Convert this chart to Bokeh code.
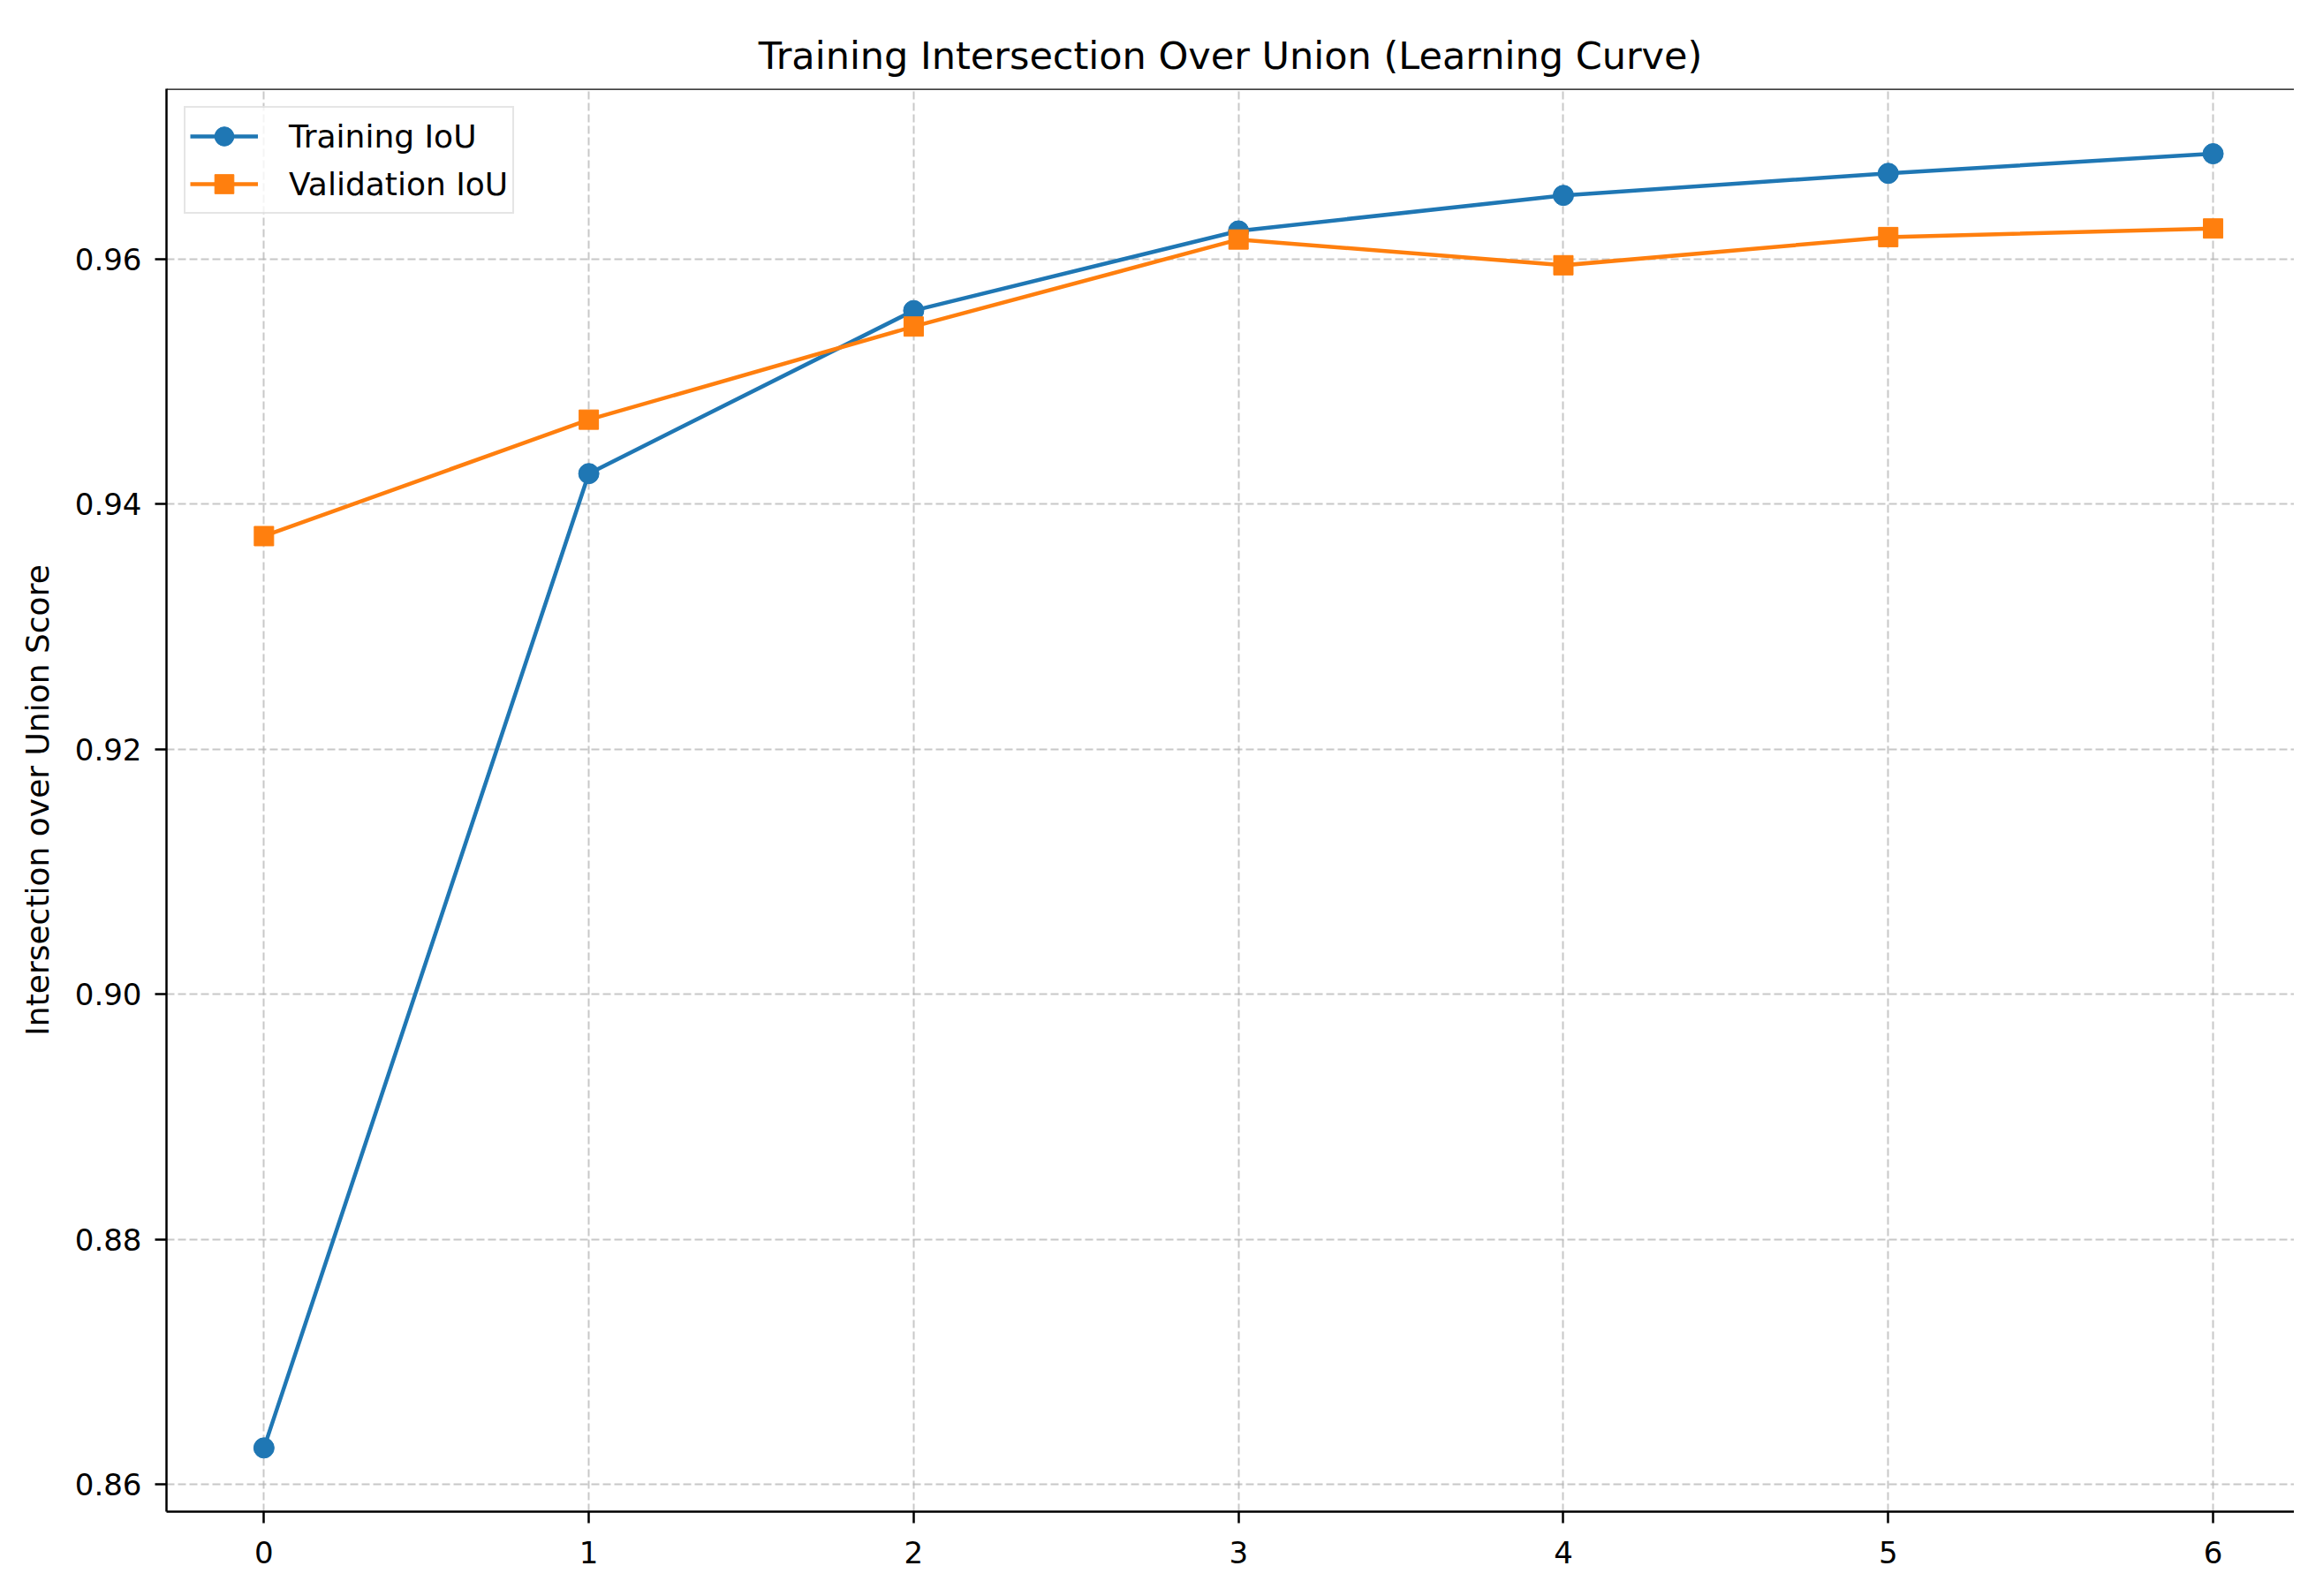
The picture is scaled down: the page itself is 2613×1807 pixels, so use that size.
from bokeh.plotting import figure
from bokeh.models import Range1d, Span, Label, FixedTicker, NumeralTickFormatter
from bokeh.embed import file_html
from bokeh.resources import INLINE

# ---- data ----
epochs = [0, 1, 2, 3, 4, 5, 6]
train_iou = [0.8630, 0.9425, 0.9558, 0.9623, 0.9652, 0.9670, 0.9686]
val_iou = [0.9374, 0.9469, 0.9545, 0.9616, 0.9595, 0.9618, 0.9625]
x_ticks = [0, 1, 2, 3, 4, 5, 6]
y_ticks = [0.86, 0.88, 0.90, 0.92, 0.94, 0.96]
title_text = "Training Intersection Over Union (Learning Curve)"
heading_text = "RESULT AND DISCUSSION"
x_label = "Epochs"
y_label = "Intersection over Union Score"

# ---- layout ----
W, H = 2597, 1791
LEFT, TOP, BOTTOM = 188, 100, 80
X0, X1 = -0.3, 6.25
Y0, Y1 = 0.8578, 0.9739
FONT = "DejaVu Sans"

p = figure(width=W, height=H, output_backend="svg", toolbar_location=None,
           x_range=Range1d(X0, X1), y_range=Range1d(Y0, Y1),
           min_border_left=LEFT, min_border_right=0,
           min_border_top=TOP, min_border_bottom=BOTTOM,
           title=title_text)
p.background_fill_color = "white"
p.border_fill_color = "white"
p.outline_line_color = None

p.title.text_font = FONT
p.title.text_font_size = "43px"
p.title.text_font_style = "normal"
p.title.text_color = "black"
p.title.align = "center"
p.title.standoff = 25
p.title.offset = 8

frame_h = H - TOP - BOTTOM
ppu_y = frame_h / (Y1 - Y0)


def ydata(canvas_y):
    return Y0 + ((H - BOTTOM) - canvas_y) / ppu_y


# grid
for g in (p.xgrid, p.ygrid):
    g.grid_line_color = "#b0b0b0"
    g.grid_line_alpha = 0.7
    g.grid_line_width = 2
    g.grid_line_dash = "9 4"

# axes
p.xaxis.ticker = FixedTicker(ticks=x_ticks)
p.yaxis.ticker = FixedTicker(ticks=y_ticks)
p.yaxis.formatter = NumeralTickFormatter(format="0.00")
for ax in (p.xaxis, p.yaxis):
    ax.major_label_text_font = FONT
    ax.major_label_text_font_size = "34px"
    ax.major_label_text_color = "black"
    ax.major_tick_out = 13
    ax.major_tick_in = 0
    ax.minor_tick_out = 0
    ax.minor_tick_in = 0
    ax.axis_line_width = 2.5
    ax.axis_line_color = "black"
    ax.major_tick_line_width = 2.5
    ax.major_tick_line_color = "black"
p.yaxis.major_label_standoff = 15
p.xaxis.major_label_standoff = 20

p.yaxis.axis_label = y_label
p.yaxis.axis_label_text_font = FONT
p.yaxis.axis_label_text_font_size = "36px"
p.yaxis.axis_label_text_font_style = "normal"
p.yaxis.axis_label_text_color = "black"
p.yaxis.axis_label_standoff = 19

# top spine
p.add_layout(Span(location=Y1, dimension="width", line_color="black", line_width=2.5))

# series
p.line(epochs, train_iou, line_color="#1f77b4", line_width=4.5, legend_label="Training IoU")
p.scatter(epochs, train_iou, marker="circle", size=23, fill_color="#1f77b4",
          line_color="#1f77b4", legend_label="Training IoU")
p.line(epochs, val_iou, line_color="#ff7f0e", line_width=4.5, legend_label="Validation IoU")
p.scatter(epochs, val_iou, marker="square", size=22, fill_color="#ff7f0e",
          line_color="#ff7f0e", legend_label="Validation IoU")

lg = p.legend[0]
lg.location = "top_left"
lg.margin = 20
lg.padding = 5
lg.spacing = 0
lg.glyph_width = 77
lg.glyph_height = 54
lg.label_height = 54
lg.label_standoff = 35
lg.label_text_font = FONT
lg.label_text_font_size = "36px"
lg.label_text_color = "black"
lg.border_line_color = "#cccccc"
lg.border_line_width = 2
lg.background_fill_alpha = 0.8

# x axis label (cut off at the bottom edge, as in the reference)
p.add_layout(Label(x=3, y=ydata(1802), text=x_label, text_align="center",
                   text_baseline="alphabetic", text_font=FONT,
                   text_font_size="36px", text_color="black"))

# slide heading (cut off at the top edge, as in the reference)
p.add_layout(Label(x=3, y=ydata(8), text=heading_text, text_align="center",
                   text_baseline="alphabetic", text_font=FONT,
                   text_font_size="92px", text_font_style="bold", text_color="black"))

open("out.html", "w").write(file_html(p, INLINE))
